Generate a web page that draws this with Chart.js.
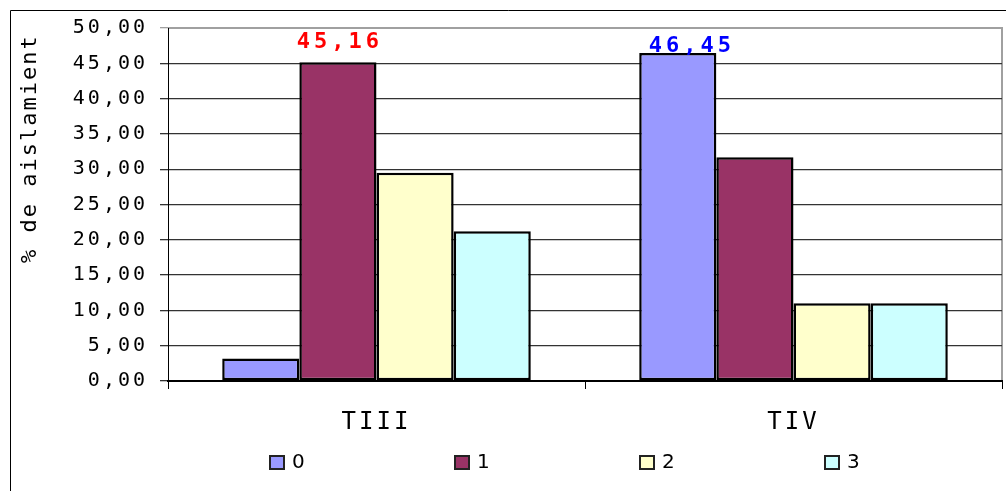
<!DOCTYPE html>
<html>
<head>
<meta charset="utf-8">
<script src="https://cdn.jsdelivr.net/npm/chart.js@4.4.1/dist/chart.umd.min.js"></script>
<style>
  html, body { margin: 0; padding: 0; background: #fff; }
  #wrap { position: relative; width: 1006px; height: 491px; }
</style>
</head>
<body>
<div id="wrap"><canvas id="grafico" width="1006" height="491"></canvas></div>
<script>
// Datos
const categorias = ["TIII", "TIV"];
const serieNombres = ["0", "1", "2", "3"];
const serie0 = [3.2, 46.45];
const serie1 = [45.16, 31.7];
const serie2 = [29.5, 11.0];
const serie3 = [21.2, 11.0];
const ticksY = [0, 5, 10, 15, 20, 25, 30, 35, 40, 45, 50];
const tituloY = "% de aislamiento";

const colores = ["#9999FF", "#993366", "#FFFFCC", "#CCFFFF"];
const valores = [serie0, serie1, serie2, serie3];

const fuenteMono = "'DejaVu Sans Mono', monospace";

const formatoComa = v => Number(v).toFixed(2).replace(".", ",");

// Espaciado de letras como en el original
const espaciado = {
  id: "espaciado",
  beforeUpdate(chart) { chart.ctx.letterSpacing = "3px"; },
  beforeDraw(chart) { chart.ctx.letterSpacing = "3px"; }
};

// Marco exterior y bordes del area de trazado
const marcos = {
  id: "marcos",
  beforeDraw(chart) {
    const ctx = chart.ctx;
    const a = chart.chartArea;
    ctx.save();
    ctx.strokeStyle = "#000";
    ctx.lineWidth = 1;
    ctx.beginPath();
    ctx.moveTo(10.5, 491);
    ctx.lineTo(10.5, 10.5);
    ctx.lineTo(1006, 10.5);
    ctx.stroke();
    ctx.strokeStyle = "#a0a0a0";
    ctx.lineWidth = 2;
    ctx.beginPath();
    ctx.moveTo(a.left, a.top);
    ctx.lineTo(a.right, a.top);
    ctx.lineTo(a.right, a.bottom);
    ctx.stroke();
    ctx.restore();
  }
};

// Titulo vertical, recortado arriba como en el original
const tituloVertical = {
  id: "tituloVertical",
  afterDraw(chart) {
    const ctx = chart.ctx;
    ctx.save();
    ctx.beginPath();
    ctx.rect(0, 33, 60, 458);
    ctx.clip();
    ctx.translate(36, 263);
    ctx.rotate(-Math.PI / 2);
    ctx.font = "22px " + fuenteMono;
    ctx.letterSpacing = "2px";
    ctx.fillStyle = "#000";
    ctx.textAlign = "left";
    ctx.textBaseline = "alphabetic";
    ctx.fillText(tituloY, 0, 0);
    ctx.restore();
  }
};

// Etiquetas de datos sobre dos barras
const etiquetas = {
  id: "etiquetas",
  afterDatasetsDraw(chart, args, opts) {
    const ctx = chart.ctx;
    ctx.save();
    ctx.font = "bold 22px " + fuenteMono;
    ctx.letterSpacing = "4px";
    ctx.textAlign = "center";
    ctx.textBaseline = "alphabetic";
    opts.lista.forEach(e => {
      const bar = chart.getDatasetMeta(e.serie).data[e.indice];
      const v = chart.data.datasets[e.serie].data[e.indice];
      ctx.fillStyle = e.color;
      ctx.fillText(formatoComa(v), bar.x + e.dx + 2, bar.y - e.dy);
    });
    ctx.restore();
  }
};

// Leyenda inferior
const leyenda = {
  id: "leyenda",
  afterDraw(chart, args, opts) {
    const ctx = chart.ctx;
    ctx.save();
    ctx.font = "20px 'DejaVu Sans', sans-serif";
    ctx.letterSpacing = "0px";
    ctx.textAlign = "left";
    ctx.textBaseline = "middle";
    chart.data.datasets.forEach((ds, i) => {
      const x = opts.x + i * opts.paso;
      ctx.fillStyle = ds.backgroundColor;
      ctx.fillRect(x, opts.y, 14, 13);
      ctx.strokeStyle = "#222";
      ctx.lineWidth = 2;
      ctx.strokeRect(x, opts.y, 14, 13);
      ctx.fillStyle = "#000";
      ctx.fillText(ds.label, x + 22, opts.y + 7);
    });
    ctx.restore();
  }
};

const datasets = serieNombres.map((nombre, i) => ({
  label: nombre,
  data: valores[i],
  backgroundColor: colores[i],
  borderColor: "#000",
  borderWidth: 2.5,
  borderSkipped: false,
  categoryPercentage: 0.74,
  barPercentage: 1.0
}));

new Chart(document.getElementById("grafico"), {
  type: "bar",
  data: { labels: categorias, datasets: datasets },
  options: {
    responsive: false,
    animation: false,
    layout: { padding: { top: 28, right: 4, left: 0, bottom: 0 } },
    scales: {
      x: {
        offset: true,
        grid: {
          offset: true,
          drawOnChartArea: false,
          drawTicks: true,
          tickLength: 8,
          color: "#000",
          lineWidth: 1
        },
        border: { color: "#000", width: 2 },
        ticks: {
          color: "#000",
          padding: 19,
          font: { family: fuenteMono, size: 24 }
        },
        afterFit(scale) { scale.height = 110; }
      },
      y: {
        min: 0,
        max: 50,
        afterBuildTicks(scale) { scale.ticks = ticksY.map(v => ({ value: v })); },
        grid: {
          color: ctx => (ctx.tick && ctx.tick.value === 50 ? "#a0a0a0" : "#333"),
          lineWidth: 1.3,
          tickLength: 8,
          drawTicks: true
        },
        border: { color: "#000", width: 1 },
        ticks: {
          color: "#000",
          padding: 12,
          font: { family: fuenteMono, size: 20 },
          callback: v => formatoComa(v)
        },
        afterFit(scale) { scale.width = 168; }
      }
    },
    plugins: {
      legend: { display: false },
      tooltip: { enabled: false },
      etiquetas: {
        lista: [
          { serie: 1, indice: 0, color: "#FF0000", dx: 0, dy: 14 },
          { serie: 0, indice: 1, color: "#0000FF", dx: 12, dy: 1 }
        ]
      },
      leyenda: { x: 270, y: 456, paso: 185 }
    }
  },
  plugins: [espaciado, marcos, tituloVertical, etiquetas, leyenda]
});
</script>
</body>
</html>
